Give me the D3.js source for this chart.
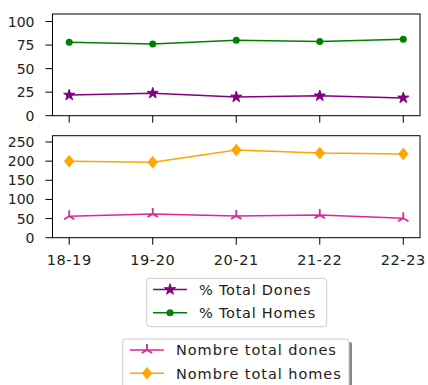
<!DOCTYPE html>
<html><head><meta charset="utf-8">
<script src="https://cdn.jsdelivr.net/npm/d3@7"></script>
<style>body{margin:0;background:#fff}svg{display:block;font-family:"DejaVu Sans",sans-serif}</style>
</head><body><svg id="c" width="428" height="385"></svg>
<script>
const categories = ["18-19","19-20","20-21","21-22","22-23"];
const pctDones = [21.9, 23.9, 19.9, 21.1, 18.9];
const pctHomes = [78.1, 76.1, 80.1, 78.9, 81.1];
const totalDones = [56, 62, 57, 59, 51];
const totalHomes = [200, 197, 229, 221, 219];
const topTicks = [0, 25, 50, 75, 100];
const bottomTicks = [0, 50, 100, 150, 200, 250];

const svg = d3.select("#c");
const x = d3.scaleLinear().domain([-0.2, 4.2]).range([52.5, 420]);
const yTop = d3.scaleLinear().domain([0, 108]).range([115.7, 14]);
const yBot = d3.scaleLinear().domain([0, 266.5]).range([237.7, 135.7]);

function triPath(s){
  return `M0,0L0,${-s}M0,0L${-s*0.866},${s*0.5}M0,0L${s*0.866},${s*0.5}`;
}

function drawMarker(g, type, color){
  if(type==="star") g.append("path").attr("d", d3.symbol().type(d3.symbolStar).size(38)()).attr("fill", color).attr("stroke", color).attr("stroke-width",1).attr("stroke-linejoin","round");
  else if(type==="circle") g.append("circle").attr("r", 3.5).attr("fill", color);
  else if(type==="tri") g.append("path").attr("d", triPath(6)).attr("stroke", color).attr("stroke-width", 1.8).attr("fill","none");
  else if(type==="diamond") g.append("path").attr("d", "M0,-6L5,0L0,6L-5,0Z").attr("fill", color).attr("stroke", color).attr("stroke-width",0.5);
}

function drawAxes(y, ticks, series, showLabels){
  const g = svg.append("g");
  const [x0,x1] = x.range(); const [y0,y1] = y.range();
  series.forEach(s=>{
    const line = d3.line().x((d,i)=>x(i)).y(d=>y(d));
    g.append("path").datum(s.values).attr("d", line).attr("fill","none").attr("stroke", s.color).attr("stroke-width",1.5);
    s.values.forEach((v,i)=>{
      const m = g.append("g").attr("transform",`translate(${x(i)},${y(v)})`);
      drawMarker(m, s.marker, s.color);
    });
  });
  g.append("rect").attr("x",x0).attr("y",y1).attr("width",x1-x0).attr("height",y0-y1).attr("fill","none").attr("stroke","#000").attr("stroke-width",1);
  ticks.forEach(t=>{
    g.append("line").attr("x1",x0-7).attr("x2",x0).attr("y1",y(t)).attr("y2",y(t)).attr("stroke","#000");
    g.append("text").attr("x",34.5).attr("y",y(t)).attr("dy","0.36em").attr("text-anchor","end").attr("font-size",14).attr("fill","#222").text(t);
  });
  categories.forEach((c,i)=>{
    g.append("line").attr("x1",x(i)).attr("x2",x(i)).attr("y1",y0).attr("y2",y0+7).attr("stroke","#000");
    if(showLabels) g.append("text").attr("x",x(i)).attr("y",y0+27.3).attr("text-anchor","middle").attr("font-size",14.5).attr("letter-spacing",0.6).attr("fill","#222").text(c);
  });
}

const topSeries = [
  {name:"% Total Dones", values:pctDones, color:"#800080", marker:"star"},
  {name:"% Total Homes", values:pctHomes, color:"#008000", marker:"circle"}
];
const botSeries = [
  {name:"Nombre total dones", values:totalDones, color:"#d62a9a", marker:"tri"},
  {name:"Nombre total homes", values:totalHomes, color:"#ffa500", marker:"diamond"}
];
drawAxes(yTop, topTicks, topSeries, false);
drawAxes(yBot, bottomTicks, botSeries, true);

function legend(series, bx, by, bw, bh, hx, tx, rows, shadow, ls){
  const g = svg.append("g");
  if(shadow) g.append("rect").attr("x",bx+3).attr("y",by+3).attr("width",bw).attr("height",bh).attr("fill","#888").attr("rx",2);
  g.append("rect").attr("x",bx).attr("y",by).attr("width",bw).attr("height",bh).attr("fill","#fff").attr("stroke","#ccc").attr("rx",3);
  series.forEach((s,i)=>{
    const yy = rows[i];
    g.append("line").attr("x1",hx).attr("x2",hx+34).attr("y1",yy).attr("y2",yy).attr("stroke",s.color).attr("stroke-width",1.5);
    const m = g.append("g").attr("transform",`translate(${hx+17},${yy})`);
    drawMarker(m, s.marker, s.color);
    g.append("text").attr("x",tx).attr("y",yy).attr("dy","0.36em").attr("font-size",14.5).attr("letter-spacing",ls).attr("fill","#222").text(s.name);
  });
}
legend(topSeries, 146.7, 278.3, 180, 48.4, 153, 199, [289.5, 312.7], false, 0.75);
legend(botSeries, 122.7, 339, 226.3, 50, 130, 176, [350, 373.3], true, 0.95);
</script></body></html>
